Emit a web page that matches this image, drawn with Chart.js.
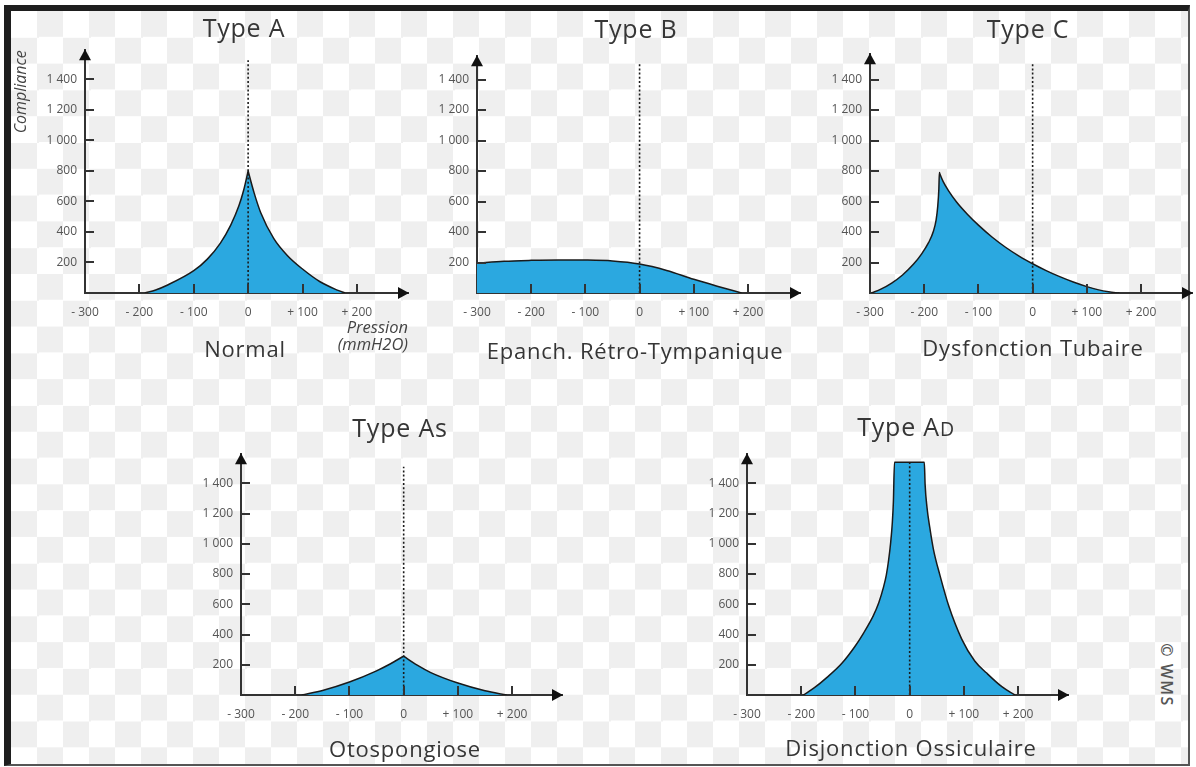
<!DOCTYPE html>
<html>
<head>
<meta charset="utf-8">
<script src="https://cdn.jsdelivr.net/npm/chart.js@4.4.1/dist/chart.umd.min.js"></script>
<style>
  body { margin: 0; width: 1196px; height: 767px; position: relative; overflow: hidden; background: #fff; }
  #frame {
    position: absolute; left: 4px; top: 5px; width: 1186px; height: 761px; box-sizing: border-box;
    border-style: solid; border-width: 6px 2px 2px 7px; border-color: #1e1e1e #555 #555 #1e1e1e;
    background-image: conic-gradient(#efefef 0 25%, #fff 0 50%, #efefef 0 75%, #fff 0);
    background-size: 52px 52.6px;
  }
  canvas { position: absolute; }
  .txt { position: absolute; transform: translate(-50%, -50%); font-family: 'Open Sans', sans-serif;
         color: #363636; line-height: 1; white-space: nowrap; }
  .ttl { font-size: 25px; letter-spacing: 0.8px; }
  .sub { font-size: 22px; letter-spacing: 0.8px; }
  .ttl small { font-size: 0.78em; }
  #copy { position: absolute; left: 1167px; top: 675px; transform: translate(-50%, -50%) rotate(90deg);
          font-family: 'Open Sans', sans-serif; font-weight: 600; font-size: 16px; letter-spacing: 1.5px;
          color: #555; white-space: nowrap; }
</style>
</head>
<body>
<div id="frame"></div>
<div id="copy">© WMS</div>
<script>
// axis ticks
const pressureTicks = [-300, -200, -100, 0, 100, 200];
const pressureTickLabels = ['- 300', '- 200', '- 100', '0', '+ 100', '+ 200'];
const complianceTicks = [200, 400, 600, 800, 1000, 1200, 1400];
const complianceTickLabels = ['200', '400', '600', '800', '1 000', '1 200', '1 400'];

// curves (pressure in mmH2O, compliance)
const typeAPressure = [-190, -170, -149, -100, -75, -51, -32, -17, -8, -1, 0, 1, 11, 23, 47, 72, 100, 133, 164, 178];
const typeACompliance = [0, 20, 51, 146, 222, 327, 445, 571, 677, 784, 800, 786, 656, 528, 358, 246, 157, 72, 19, 0];

const typeBPressure = [-300, -250, -200, -150, -100, -50, 0, 50, 100, 150, 188];
const typeBCompliance = [195, 208, 214, 217, 216, 210, 190, 148, 90, 38, 0];

const typeCPressure = [-297, -280, -260, -240, -220, -205, -192, -183, -178, -175, -173, -172, -171, -165, -155, -140, -120, -100, -75, -50, -25, 0, 25, 50, 75, 100, 120, 140, 160];
const typeCCompliance = [0, 25, 65, 118, 188, 255, 330, 405, 480, 570, 680, 790, 780, 730, 670, 595, 515, 445, 367, 300, 242, 192, 147, 107, 72, 42, 22, 8, 0];

const typeAsPressure = [-188, -148, -100, -50, -25, -2, 0, 2, 25, 49, 100, 150, 190];
const typeAsCompliance = [0, 32, 86, 160, 205, 253, 257, 252, 197, 150, 79, 28, 0];

const typeADPressure = [-196, -175, -153, -125, -101, -85, -67, -57, -48, -43, -39, -35, -32, -30, -28, 27, 28.5, 32, 37, 44, 56, 72, 96, 120, 142, 170, 194];
const typeADCompliance = [0, 50, 115, 210, 321, 410, 525, 610, 717, 795, 888, 1010, 1140, 1280, 1540, 1540, 1390, 1240, 1110, 960, 790, 590, 370, 225, 145, 55, 0];

// top of the dotted 0 line in each panel
const zeroLineTop = [1525, 1500, 1500, 1510, 1540];

const panelTitles = ['Type A', 'Type B', 'Type C', 'Type As', 'Type AD'];
const panelSubtitles = ['Normal', 'Epanch. Rétro-Tympanique', 'Dysfonction Tubaire', 'Otospongiose', 'Disjonction Ossiculaire'];

const FILL = '#2ba8e0';
const AXIS = '#333';
const FONT = "'Open Sans', sans-serif";
const AXW = 75, AXH = 62, PADT = 8, PADR = 10;

// chart area in page pixels: [left, top, right, bottom]
const panels = [
  { px: typeAPressure, py: typeACompliance, area: [85, 43, 408, 293], xMax: 294, yMax: 1591, title: [244, 27], sub: [245, 348] },
  { px: typeBPressure, py: typeBCompliance, area: [477, 49, 800, 293], xMax: 296, yMax: 1553, title: [636, 28], sub: [635, 350] },
  { px: typeCPressure, py: typeCCompliance, area: [870, 47, 1192, 293], xMax: 294, yMax: 1566, title: [1028, 28], sub: [1033, 347] },
  { px: typeAsPressure, py: typeAsCompliance, area: [241, 447, 562, 695], xMax: 292, yMax: 1593, title: [400, 427], sub: [405, 748] },
  { px: typeADPressure, py: typeADCompliance, area: [747, 447, 1068, 695], xMax: 292, yMax: 1593, title: [906, 426], sub: [911, 747] }
];

// inner tick marks and arrow heads
const axisDecor = {
  id: 'axisDecor',
  afterDraw(chart) {
    const { ctx, chartArea: a, scales: { x, y } } = chart;
    ctx.save();
    ctx.strokeStyle = AXIS;
    ctx.lineWidth = 2;
    ctx.beginPath();
    x.ticks.forEach(t => {
      if (t.value === x.min) return;
      const p = Math.round(x.getPixelForValue(t.value));
      ctx.moveTo(p, a.bottom);
      ctx.lineTo(p, a.bottom - 9);
    });
    y.ticks.forEach(t => {
      const p = Math.round(y.getPixelForValue(t.value));
      ctx.moveTo(a.left, p);
      ctx.lineTo(a.left + 9, p);
    });
    ctx.stroke();
    ctx.fillStyle = '#111';
    ctx.beginPath();
    ctx.moveTo(a.right + 1, a.bottom);
    ctx.lineTo(a.right - 10, a.bottom - 6);
    ctx.lineTo(a.right - 10, a.bottom + 6);
    ctx.closePath();
    ctx.fill();
    ctx.beginPath();
    ctx.moveTo(a.left, a.top - 1);
    ctx.lineTo(a.left - 6, a.top + 10);
    ctx.lineTo(a.left + 6, a.top + 10);
    ctx.closePath();
    ctx.fill();
    ctx.restore();
  }
};

panels.forEach((p, i) => {
  const [l, t, r, b] = p.area;
  const cv = document.createElement('canvas');
  cv.width = r - l + AXW + PADR;
  cv.height = b - t + PADT + AXH;
  cv.style.left = (l - AXW) + 'px';
  cv.style.top = (t - PADT) + 'px';
  document.body.appendChild(cv);

  const pts = p.px.map((x, k) => ({ x: x, y: p.py[k] }));

  new Chart(cv, {
    type: 'line',
    data: {
      datasets: [{
        data: [{ x: 0, y: 0 }, { x: 0, y: zeroLineTop[i] }],
        borderColor: '#1a1a1a', borderWidth: 1.6, borderDash: [2, 2.2], pointRadius: 0, fill: false
      }, {
        data: pts, borderColor: '#1a1a1a', borderWidth: 1.5, borderJoinStyle: 'round',
        backgroundColor: FILL, fill: 'origin', cubicInterpolationMode: 'monotone', pointRadius: 0
      }]
    },
    options: {
      responsive: false,
      animation: false,
      events: [],
      layout: { padding: { top: PADT, right: PADR, left: 0, bottom: 0 } },
      plugins: { legend: { display: false }, tooltip: { enabled: false } },
      scales: {
        x: {
          type: 'linear', min: -300, max: p.xMax, z: 1,
          grid: { display: false, drawTicks: false },
          border: { color: AXIS, width: 2 },
          afterBuildTicks: s => { s.ticks = pressureTicks.map(v => ({ value: v })); },
          afterFit: s => { s.height = AXH; },
          ticks: {
            padding: 12, color: '#555', autoSkip: false, maxRotation: 0,
            font: { family: FONT, size: 12 },
            callback: (v, k) => pressureTickLabels[k]
          },
          title: i === 0 ? {
            display: true, text: ['Pression', '(mmH2O)'], align: 'end', color: '#444',
            font: { family: FONT, size: 16.5, style: 'italic', lineHeight: 1.05 },
            padding: { top: 0, bottom: 1 }
          } : { display: false }
        },
        y: {
          type: 'linear', min: 0, max: p.yMax, z: 1,
          grid: { display: false, drawTicks: false },
          border: { color: AXIS, width: 2 },
          afterBuildTicks: s => { s.ticks = complianceTicks.map(v => ({ value: v })); },
          afterFit: s => { s.width = AXW; },
          ticks: {
            padding: 8, color: '#555', autoSkip: false,
            font: { family: FONT, size: 12 },
            callback: (v, k) => complianceTickLabels[k]
          },
          title: i === 0 ? {
            display: true, text: 'Compliance', align: 'end', color: '#444',
            font: { family: FONT, size: 16, style: 'italic', lineHeight: 1.2 },
            padding: { top: 2, bottom: 0 }
          } : { display: false }
        }
      }
    },
    plugins: [axisDecor]
  });

  const tt = document.createElement('div');
  tt.className = 'txt ttl';
  const name = panelTitles[i];
  if (name.endsWith('AD')) {
    tt.textContent = name.slice(0, -1);
    const sm = document.createElement('small');
    sm.textContent = 'D';
    tt.appendChild(sm);
  } else {
    tt.textContent = name;
  }
  tt.style.left = p.title[0] + 'px';
  tt.style.top = p.title[1] + 'px';
  document.body.appendChild(tt);

  const st = document.createElement('div');
  st.className = 'txt sub';
  st.textContent = panelSubtitles[i];
  st.style.left = p.sub[0] + 'px';
  st.style.top = p.sub[1] + 'px';
  document.body.appendChild(st);
});
</script>
</body>
</html>
